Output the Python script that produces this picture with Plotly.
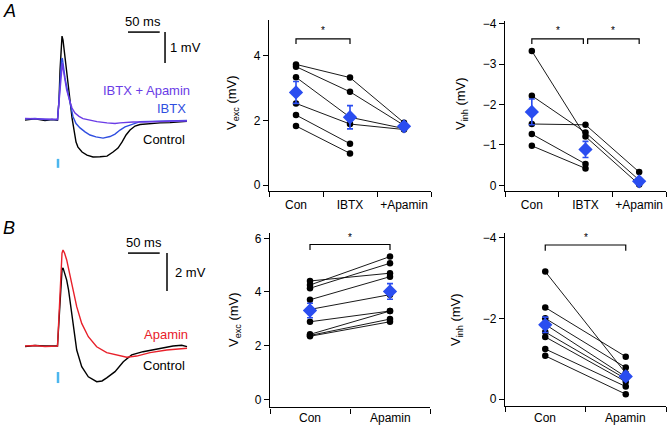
import plotly.graph_objects as go

W, H = 668, 425
FONT = "Liberation Sans, Arial, Helvetica, sans-serif"

# ---------------- Example traces (time in ms after stimulus, voltage in mV) ----------------
A_ctrl_t = [-52.1, -36.3, -20.5, -9.5, -0.8, 1.6, 3.2, 4.7, 6.3, 7.9, 10.3, 13.7, 16.6, 18.9, 22.1, 24.1,
            28.4, 31.5, 37.9, 45.7, 55.2, 66.2, 77.3, 86.8, 94.6, 100.9, 107.3, 113.6, 121.5, 129.3,
            145.1, 160.9, 176.7, 192.4, 203.5]
A_ctrl_v = [-0.02, 0.02, -0.03, 0.0, -0.02, 0.63, 1.60, 2.40, 2.69, 2.56, 2.18, 1.60, 1.11, 0.63, 0.05, -0.24,
            -0.73, -0.89, -1.05, -1.15, -1.21, -1.20, -1.18, -1.05, -0.92, -0.73, -0.50, -0.34, -0.21, -0.16,
            -0.13, -0.11, -0.10, -0.08, -0.06]

A_ibtx_t = [-52.1, -36.3, -20.5, -0.8, 1.6, 3.9, 5.5, 6.8, 8.4, 11.0, 13.7, 18.9, 23.7, 28.4, 34.7, 42.6,
            50.5, 59.9, 71.0, 82.0, 89.9, 97.8, 105.7, 113.6, 129.3, 145.1, 168.8, 189.3, 203.5]
A_ibtx_v = [0.02, 0.03, 0.0, 0.0, 0.63, 1.44, 1.92, 1.98, 1.70, 1.34, 1.06, 0.53, 0.09, -0.13, -0.27, -0.40,
            -0.50, -0.56, -0.60, -0.55, -0.47, -0.34, -0.24, -0.18, -0.07, -0.06, -0.05, -0.05, -0.03]

A_apa_t = [-52.1, -36.3, -20.5, -0.8, 1.6, 3.9, 5.5, 6.8, 8.4, 11.0, 13.7, 18.9, 22.1, 26.8, 33.1, 39.4,
           50.5, 61.5, 77.3, 89.9, 97.8, 118.3, 137.2, 160.9, 184.5, 203.5]
A_apa_v = [0.03, 0.02, 0.02, 0.0, 0.56, 1.27, 1.73, 1.82, 1.60, 1.21, 0.95, 0.57, 0.37, 0.21, 0.10, 0.03,
           -0.03, -0.07, -0.11, -0.13, -0.11, -0.08, -0.08, -0.06, -0.05, -0.05]

B_ctrl_t = [-52.1, -36.3, -20.5, -0.8, 1.6, 3.9, 6.3, 7.9, 10.3, 13.7, 16.6, 18.9, 24.1, 29.5, 37.4, 47.8,
            61.0, 69.4, 76.8, 89.9, 103.0, 116.2, 134.1, 160.9, 181.4, 195.1, 203.5]
B_ctrl_v = [-0.03, 0.03, 0.0, 0.0, 1.37, 2.95, 4.00, 4.11, 3.89, 3.47, 2.95, 2.42, 1.02, -0.21, -1.09, -1.62,
            -1.88, -1.84, -1.68, -1.35, -0.83, -0.47, -0.30, -0.11, 0.0, 0.04, -0.03]

B_apa_t = [-52.1, -36.3, -20.5, -0.8, 1.6, 3.9, 6.3, 7.9, 10.3, 13.7, 17.4, 21.6, 29.5, 37.4, 47.8, 61.0,
           76.8, 92.6, 108.4, 124.1, 145.1, 171.5, 203.5]
B_apa_v = [0.0, 0.03, -0.03, 0.0, 1.63, 3.74, 4.89, 5.05, 4.89, 4.53, 3.89, 3.30, 2.07, 1.19, 0.49, -0.04,
           -0.35, -0.47, -0.59, -0.53, -0.35, -0.21, -0.12]

SCALE_MS = 50
SCALE_MV_A = 1
SCALE_MV_B = 2

# ---------------- Paired data ----------------
A_cats = ["Con", "IBTX", "+Apamin"]
A_exc_con = [3.74, 3.67, 3.34, 2.53, 2.17, 1.83]
A_exc_ibtx = [3.33, 2.89, 2.10, 1.89, 1.28, 0.98]
A_exc_apa = [1.93, 1.85, 1.75, 1.72, None, None]
A_exc_mean = [2.87, 2.10, 1.82]
A_exc_sem = [0.34, 0.36, 0.05]

A_inh_con = [-3.33, -2.22, -1.52, -1.27, -0.98]
A_inh_ibtx = [-1.21, -1.31, -1.50, -0.53, -0.42]
A_inh_apa = [-0.02, -0.13, -0.33, None, None]
A_inh_mean = [-1.82, -0.89, -0.10]
A_inh_sem = [0.32, 0.20, 0.06]

B_cats = ["Con", "Apamin"]
B_exc_con = [4.41, 4.26, 4.14, 3.71, 3.35, 2.89, 2.42, 2.38, 2.35]
B_exc_apa = [4.70, 5.32, 5.07, 4.57, 3.90, 3.29, 3.29, 2.99, 2.89]
B_exc_mean = [3.31, 4.02]
B_exc_sem = [0.27, 0.29]

B_inh_con = [-3.16, -2.27, -2.00, -1.85, -1.66, -1.54, -1.24, -1.07]
B_inh_apa = [-0.64, -1.05, -0.78, -0.55, -0.50, -0.43, -0.31, -0.12]
B_inh_mean = [-1.84, -0.56]
B_inh_sem = [0.19, 0.10]

# colours
BLACK = "#000000"
C_IBTX = "#2f4ee0"
C_APA_A = "#6a3be6"
C_RED = "#e8202a"
C_STIM = "#4cb6ee"
C_MEAN = "#2a4df0"


def px(x):
    return x / W


def py(y):
    return 1 - y / H


fig = go.Figure()
annotations = []


def ann(text, x, y, size=13, color=BLACK, xanchor="center", yanchor="middle", angle=0, italic=False,
        xref="paper", yref="paper"):
    if xref == "paper":
        x = px(x)
    if yref == "paper":
        y = py(y)
    annotations.append(dict(text=text, x=x, y=y, xref=xref, yref=yref, showarrow=False,
                            xanchor=xanchor, yanchor=yanchor, textangle=angle,
                            font=dict(family=FONT, size=size, color=color,
                                      style="italic" if italic else "normal")))


def line(xs, ys, color, width, xa, ya):
    fig.add_trace(go.Scatter(x=xs, y=ys, mode="lines", line=dict(color=color, width=width),
                             xaxis=xa, yaxis=ya, hoverinfo="skip", showlegend=False))


# ---------------- Trace panels ----------------
line(A_ctrl_t, A_ctrl_v, BLACK, 1.4, "x", "y")
line(A_ibtx_t, A_ibtx_v, C_IBTX, 1.4, "x", "y")
line(A_apa_t, A_apa_v, C_APA_A, 1.4, "x", "y")
line([0, 0], [-1.27, -1.56], C_STIM, 2.5, "x", "y")
# scale bars A
line([110.4, 110.4 + SCALE_MS], [2.82, 2.82], BLACK, 1.5, "x", "y")
line([168.8, 168.8], [2.82, 2.82 - SCALE_MV_A], BLACK, 1.5, "x", "y")

line(B_ctrl_t, B_ctrl_v, BLACK, 1.4, "x4", "y4")
line(B_apa_t, B_apa_v, C_RED, 1.4, "x4", "y4")
line([0, 0], [-1.37, -1.95], C_STIM, 2.5, "x4", "y4")
line([110.4, 110.4 + SCALE_MS], [4.89, 4.89], BLACK, 1.5, "x4", "y4")
line([171.9, 171.9], [4.89, 4.89 - SCALE_MV_B], BLACK, 1.5, "x4", "y4")

ann("A", 1, 11, size=18, xanchor="left", italic=True)
ann("B", 1, 228, size=18, xanchor="left", italic=True)
ann(f"{SCALE_MS} ms", 143, 22, size=13)
ann(f"{SCALE_MV_A} mV", 168, 48, size=13, xanchor="left")
ann(f"{SCALE_MS} ms", 144, 242, size=13)
ann(f"{SCALE_MV_B} mV", 173, 272, size=13, xanchor="left")
ann("IBTX + Apamin", 192, 90, size=13, color=C_APA_A, xanchor="right")
ann("IBTX", 188, 108, size=13, color=C_IBTX, xanchor="right")
ann("Control", 187, 139, size=13, xanchor="right")
ann("Apamin", 190, 334, size=13, color=C_RED, xanchor="right")
ann("Control", 187, 365, size=13, xanchor="right")


# ---------------- Dot plots ----------------
def paired(groups, xa, ya):
    n = len(groups[0])
    for i in range(n):
        ys = [g[i] for g in groups]
        fig.add_trace(go.Scatter(x=list(range(len(groups))), y=ys, mode="lines+markers",
                                 line=dict(color=BLACK, width=0.9),
                                 marker=dict(color=BLACK, size=6.5),
                                 xaxis=xa, yaxis=ya, hoverinfo="skip", showlegend=False,
                                 connectgaps=False))


def means(m, s, xa, ya):
    fig.add_trace(go.Scatter(x=list(range(len(m))), y=m, mode="markers",
                             marker=dict(color=C_MEAN, size=11, symbol="diamond"),
                             error_y=dict(type="data", array=s, color=C_MEAN, thickness=1.6, width=3),
                             xaxis=xa, yaxis=ya, hoverinfo="skip", showlegend=False))


def bracket(x0, x1, top, drop, star, xa, ya):
    line([x0, x0, x1, x1], [drop, top, top, drop], BLACK, 1.2, xa, ya)
    ann("*", (x0 + x1) / 2, star, size=10, xref=xa, yref=ya)


paired([A_exc_con, A_exc_ibtx, A_exc_apa], "x2", "y2")
means(A_exc_mean, A_exc_sem, "x2", "y2")
bracket(0, 1, 4.53, 4.37, 4.78, "x2", "y2")

paired([A_inh_con, A_inh_ibtx, A_inh_apa], "x3", "y3")
means(A_inh_mean, A_inh_sem, "x3", "y3")
bracket(0, 0.96, -3.63, -3.50, -3.84, "x3", "y3")
bracket(1.04, 2, -3.63, -3.50, -3.84, "x3", "y3")

paired([B_exc_con, B_exc_apa], "x5", "y5")
means(B_exc_mean, B_exc_sem, "x5", "y5")
bracket(0, 1, 5.77, 5.56, 6.02, "x5", "y5")

paired([B_inh_con, B_inh_apa], "x6", "y6")
means(B_inh_mean, B_inh_sem, "x6", "y6")
bracket(0, 1, -3.82, -3.68, -4.0, "x6", "y6")

ann("V<sub>exc</sub> (mV)", 233, 103, size=13, angle=-90)
ann("V<sub>inh</sub> (mV)", 461, 104, size=13, angle=-90)
ann("V<sub>exc</sub> (mV)", 234, 320, size=13, angle=-90)
ann("V<sub>inh</sub> (mV)", 456, 320, size=13, angle=-90)

# category labels of the lower row (sit close under their axes)
for i, c in enumerate(B_cats):
    ann(c, i, 418, size=12, xref="x5")
    ann(c, i, 418, size=12, xref="x6")

tickfont = dict(family=FONT, size=12, color=BLACK)


def xcat(dom, cats, anchor, labels=True):
    n = len(cats)
    return dict(domain=[px(dom[0]), px(dom[1])], range=[-0.5, n - 0.5], tickmode="array",
                tickvals=list(range(n)), ticktext=cats, ticks="outside", ticklen=2,
                showticklabels=labels,
                tickcolor="rgba(0,0,0,0)", showline=True, linecolor=BLACK, linewidth=1.4,
                showgrid=False, zeroline=False, tickfont=tickfont, fixedrange=True,
                automargin=False, anchor=anchor,
                minor=dict(tickmode="array", tickvals=[i - 0.5 for i in range(n + 1)],
                           ticks="outside", ticklen=5, tickwidth=1.4, tickcolor=BLACK, showgrid=False))


def yval(dom, rng, vals, anchor):
    return dict(domain=[py(dom[1]), py(dom[0])], range=rng, tickmode="array", tickvals=vals,
                ticks="outside", ticklen=5, tickwidth=1.4, tickcolor=BLACK, showline=True,
                linecolor=BLACK, linewidth=1.4, showgrid=False, zeroline=False, tickfont=tickfont,
                fixedrange=True, automargin=False, anchor=anchor)


def hidden(dom, rng, axis, anchor):
    if axis == "x":
        d = [px(dom[0]), px(dom[1])]
    else:
        d = [py(dom[1]), py(dom[0])]
    return dict(domain=d, range=rng, visible=False, fixedrange=True, automargin=False, anchor=anchor)


fig.update_layout(
    template="none",
    width=W, height=H, margin=dict(l=0, r=0, t=0, b=0, pad=0, autoexpand=False),
    paper_bgcolor="white", plot_bgcolor="rgba(0,0,0,0)",
    showlegend=False,
    xaxis=hidden((0, 220), [-91.5, 255.5], "x", "y"),
    yaxis=hidden((0, 200), [-2.597, 3.855], "y", "x"),
    xaxis4=hidden((0, 220), [-91.5, 255.5], "x", "y4"),
    yaxis4=hidden((200, 425), [-4.158, 7.684], "y", "x4"),
    xaxis2=xcat((269, 431), A_cats, "y2"),
    yaxis2=yval((20, 191), [-0.186, 5.116], [0, 2, 4], "x2"),
    xaxis3=xcat((505, 666), A_cats, "y3"),
    yaxis3=yval((20.7, 191), [0.14, -4.08], [0, -1, -2, -3, -4], "x3"),
    xaxis5=xcat((270, 430), B_cats, "y5", labels=False),
    yaxis5=yval((233, 407.3), [-0.298, 6.198], [0, 2, 4, 6], "x5"),
    xaxis6=xcat((505, 666), B_cats, "y6", labels=False),
    yaxis6=yval((233.3, 405.7), [0.166, -4.11], [0, -2, -4], "x6"),
    annotations=annotations,
)

fig.write_html(
    "out.html",
    config={"displayModeBar": False},
    post_script="document.body.style.margin='0';document.body.style.overflow='hidden';",
)
